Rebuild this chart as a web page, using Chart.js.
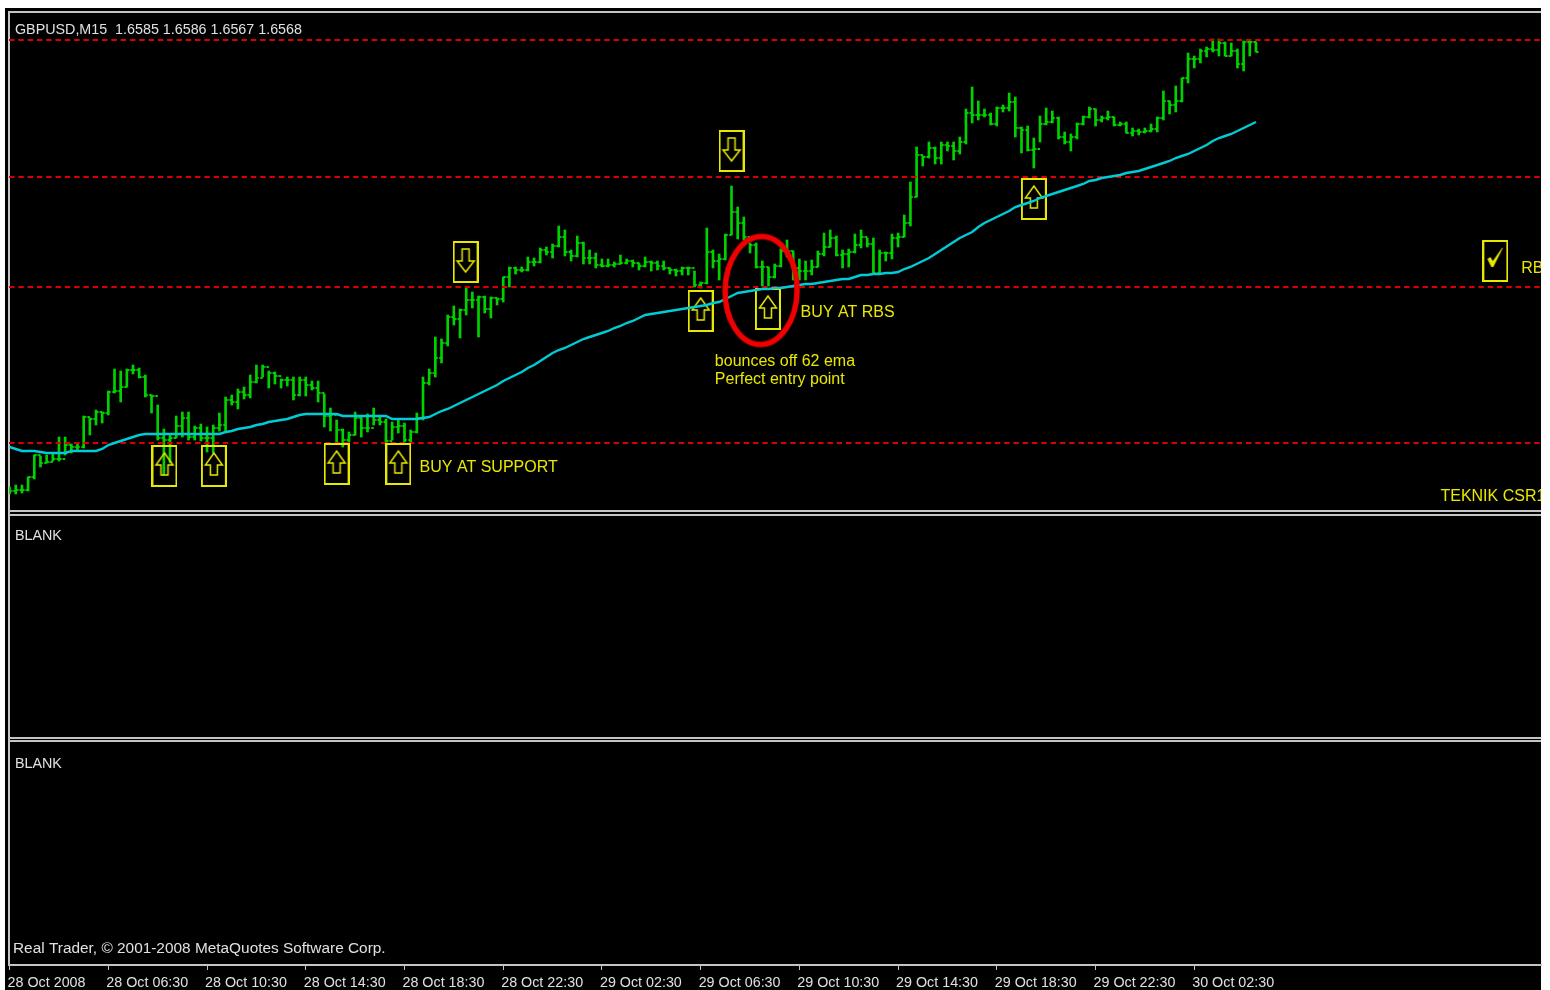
<!DOCTYPE html>
<html>
<head>
<meta charset="utf-8">
<title>GBPUSD M15</title>
<style>html,body{margin:0;padding:0;background:#fff}canvas{display:block}</style>
<script src="https://cdn.jsdelivr.net/npm/chart.js@4/dist/chart.umd.min.js"></script>
</head>
<body>
<canvas id="c" width="1550" height="990"></canvas>
<script>
// Estimated readings; unit = 1 tick (2 pips) above 1.5800. One entry per M15 bar.
const highs = [3,5,5,13,35,34,35,36,53,53,46,46,74,72,80,78,99,121,119,121,125,122,115,95,85,61,55,74,78,78,64,66,63,65,77,93,95,101,103,115,125,125,119,118,111,113,113,113,113,109,109,96,82,70,61,58,78,73,76,82,73,71,68,70,67,60,77,113,121,153,151,175,184,181,202,198,194,194,193,192,213,223,223,223,233,232,242,243,246,264,260,240,254,248,240,237,231,231,228,235,231,230,227,233,229,229,229,222,221,223,223,219,208,262,240,236,256,304,283,273,247,247,229,223,226,241,250,239,231,229,230,239,257,260,254,240,241,256,260,252,252,240,238,256,257,275,308,343,334,348,343,348,348,348,353,381,403,389,381,377,383,385,397,393,363,364,352,374,382,379,373,358,356,367,374,383,381,374,379,373,368,368,362,361,362,366,373,399,389,404,412,437,434,441,443,451,451,448,447,441,449,449,448];
const lows = [-4,-4,-3,-1,11,23,27,29,29,35,37,39,42,55,65,67,75,97,88,103,116,112,93,77,50,15,27,52,53,50,50,49,38,37,59,59,85,81,91,92,107,113,102,106,102,104,90,94,94,100,88,63,59,47,43,48,55,53,58,65,65,45,50,57,48,47,57,70,105,113,127,144,165,152,175,182,153,177,172,185,188,203,216,218,219,224,227,235,232,243,234,229,233,226,226,222,223,223,223,226,226,223,220,223,219,220,220,216,214,215,215,203,202,206,222,210,230,255,251,250,237,222,204,204,212,223,233,210,210,210,215,223,234,243,234,222,223,237,242,243,216,216,229,231,243,253,264,293,324,332,326,326,339,330,336,346,367,370,373,365,364,378,379,353,337,339,322,348,365,367,351,346,339,351,365,372,364,368,370,364,364,357,354,355,357,358,358,370,376,378,388,407,422,427,433,438,434,434,434,422,419,434,438];
const closes = [-1,0,0,13,35,27,28,31,31,45,43,43,73,71,78,77,98,99,103,120,120,113,95,94,52,50,52,64,72,53,62,52,52,62,65,90,88,98,95,108,112,123,117,114,110,110,95,110,105,102,97,74,75,60,50,55,72,62,62,70,68,49,63,64,50,58,72,107,117,132,147,173,171,180,190,190,193,181,192,191,213,222,220,220,228,228,240,238,244,253,238,234,247,232,232,225,224,225,226,227,229,227,224,228,227,224,222,220,219,222,222,205,207,238,229,231,255,278,267,253,245,223,223,213,224,239,239,222,219,219,223,236,243,252,235,236,238,245,253,246,217,237,237,252,253,267,293,335,333,342,332,345,344,339,348,377,375,375,375,366,382,382,388,362,360,340,341,366,368,372,353,348,353,366,373,381,370,372,373,365,366,357,359,358,359,361,372,389,385,389,412,431,431,439,441,440,447,434,439,426,448,448,438];
const ema62 = [43,41,39,39,39,38,37,37,37,37,39,39,39,39,39,41,45,47,49,51,53,55,56,56,56,56,56,56,56,56,56,56,56,56,56,58,59,61,62,63,65,66,68,69,70,71,73,75,76,76,76,76,76,76,74,74,74,74,74,74,74,74,71,71,71,71,71,72,73,76,79,81,84,87,90,93,96,99,102,105,109,112,115,118,122,125,129,133,137,140,142,145,148,151,153,155,157,159,162,164,167,169,172,175,176,177,178,179,180,181,182,183,184,185,187,188,191,194,197,198,199,200,201,201,202,202,203,204,205,206,206,207,208,209,210,211,211,213,215,215,216,216,217,217,218,221,223,226,229,232,236,240,244,248,252,255,258,263,267,270,273,276,279,283,285,287,289,292,294,296,298,300,302,304,306,309,310,312,313,314,315,317,318,319,321,323,325,327,329,332,334,336,339,342,345,349,352,354,356,359,362,365,368];
const levels = [450,313,203,47];
const tickBars = [0,16,32,48,64,80,96,112,128,144,160,176,192];
const tickLabels = ['28 Oct 2008','28 Oct 06:30','28 Oct 10:30','28 Oct 14:30','28 Oct 18:30','28 Oct 22:30','29 Oct 02:30','29 Oct 06:30','29 Oct 10:30','29 Oct 14:30','29 Oct 18:30','29 Oct 22:30','30 Oct 02:30'];
const buySignals = [[25.1,24],[33.1,24],[53,26],[63,26],[112,179],[122.9,181],[166,291]];
const sellSignals = [[73.9,228],[117,339]];
const checkMarks = [[240.8,229]];
const circled = [[121.8,199.5]];
const notes = [['BUY AT SUPPORT',66.45,23],['BUY AT RBS',128.2,178],['bounces off 62 ema',114.3,129],['Perfect entry point',114.3,111],['RB',245,222],['TEKNIK CSR1',231.9,-6]];
const headerText = 'GBPUSD,M15  1.6585 1.6586 1.6567 1.6568';
const panelLabel = 'BLANK';
const copyright = 'Real Trader, \u00A9 2001-2008 MetaQuotes Software Corp.';

const XMIN = -0.1, XMAX = 248.2, YMIN = -475, YMAX = 478;
const GREEN = '#00d200', CYAN = '#00ccd6', RED = '#d80000', YELLOW = '#e8e800', GRAY = '#c4c4c4';
const FONT = '"Liberation Sans"';

function canvasOf(w, h, draw) {
  const c = document.createElement('canvas');
  c.width = w; c.height = h;
  draw(c.getContext('2d'));
  return c;
}
function boxed(draw) {
  return canvasOf(26, 42, g => {
    g.strokeStyle = YELLOW; g.lineWidth = 2; g.lineJoin = 'miter';
    g.strokeRect(1, 1, 24, 40);
    g.lineWidth = 1.5;
    draw(g);
  });
}
const upBox = boxed(g => {
  g.beginPath();
  g.moveTo(13, 8); g.lineTo(21.5, 20); g.lineTo(16.5, 20); g.lineTo(16.5, 30);
  g.lineTo(9.5, 30); g.lineTo(9.5, 20); g.lineTo(4.5, 20); g.closePath(); g.stroke();
});
const downBox = boxed(g => {
  g.beginPath();
  g.moveTo(9.5, 8); g.lineTo(16.5, 8); g.lineTo(16.5, 20); g.lineTo(21.5, 20);
  g.lineTo(13, 31); g.lineTo(4.5, 20); g.lineTo(9.5, 20); g.closePath(); g.stroke();
});
const checkBox = boxed(g => {
  g.fillStyle = YELLOW;
  g.beginPath();
  g.moveTo(5, 19); g.lineTo(8, 17); g.lineTo(10.5, 21); g.lineTo(20, 7.5); g.lineTo(20.5, 8);
  g.lineTo(11, 27); g.lineTo(9, 27); g.closePath(); g.fill();
});
const ellipse = canvasOf(84, 120, g => {
  g.strokeStyle = '#f00000'; g.lineWidth = 5.5;
  g.beginPath(); g.ellipse(42, 60, 36, 54, 0.02, 0, Math.PI * 2); g.stroke();
});
const openTick = canvasOf(6, 2, g => { g.fillStyle = GREEN; g.fillRect(0.5, 0, 2.5, 2); });
const closeTick = canvasOf(6, 2, g => { g.fillStyle = GREEN; g.fillRect(3, 0, 2.5, 2); });

const toXY = a => a.map(p => ({x: p[0], y: p[1]}));
const markers = (data, style, order) => ({
  type: 'scatter', data: toXY(data), pointStyle: style, pointRadius: 1,
  pointHoverRadius: 1, order, clip: false
});
const bars = highs.map((h, i) => ({x: i, y: [lows[i], h]}));
const opens = [closes[0]].concat(closes.slice(0, -1));

const datasets = [
  {type: 'bar', data: bars, backgroundColor: GREEN, barThickness: 2, order: 9},
  {type: 'scatter', data: opens.map((v, i) => ({x: i, y: v})), pointStyle: openTick, pointRadius: 1, order: 8},
  {type: 'scatter', data: closes.map((v, i) => ({x: i, y: v})), pointStyle: closeTick, pointRadius: 1, order: 8},
  ...levels.map(v => ({
    type: 'line', data: [{x: XMIN, y: v}, {x: XMAX, y: v}], borderColor: RED, borderWidth: 2,
    borderDash: [5.5, 3.8], pointRadius: 0, order: 7
  })),
  markers(buySignals, upBox, 3),
  markers(sellSignals, downBox, 3),
  markers(checkMarks, checkBox, 3),
  {type: 'line', data: ema62.map((v, i) => ({x: i, y: v})), borderColor: CYAN, borderWidth: 2.4,
   pointRadius: 0, tension: 0, order: 2},
  markers(circled, ellipse, 1)
];

const frame = {
  id: 'frame',
  beforeDraw(chart) {
    const g = chart.ctx, a = chart.chartArea;
    g.save();
    g.fillStyle = '#fff'; g.fillRect(0, 0, chart.width, chart.height);
    g.fillStyle = '#000'; g.fillRect(5, 8, a.right - 5, chart.height - 8);
    g.fillStyle = GRAY;
    g.fillRect(8, 11, a.right - 8, 2);
    g.fillRect(8, 11, 2, a.bottom - 11);
    const h = a.bottom - a.top;
    [0.5225, 0.5265, 0.7605, 0.7635].forEach(f => g.fillRect(8, Math.round(a.top + h * f), a.right - 8, 2));
    g.restore();
  },
  afterDatasetsDraw(chart) {
    const g = chart.ctx, a = chart.chartArea, sx = chart.scales.x, sy = chart.scales.y;
    g.save();
    g.beginPath(); g.rect(0, 0, a.right, chart.height); g.clip();
    g.textBaseline = 'middle'; g.textAlign = 'left';
    g.fillStyle = YELLOW; g.font = '16px ' + FONT;
    notes.forEach(n => g.fillText(n[0], sx.getPixelForValue(n[1]), sy.getPixelForValue(n[2]) + 1));
    g.fillStyle = '#e0e0e0'; g.font = '14.3px ' + FONT;
    g.fillText(headerText, 15, 30);
    g.fillText(panelLabel, 15, 536);
    g.fillText(panelLabel, 15, 764);
    g.font = '15.4px ' + FONT;
    g.fillText(copyright, 13, 949);
    g.restore();
  }
};

new Chart(document.getElementById('c'), {
  type: 'bar',
  data: {datasets},
  plugins: [frame],
  options: {
    responsive: false,
    animation: false,
    events: [],
    layout: {padding: {left: 9, right: 9, top: 12, bottom: 0}},
    plugins: {legend: {display: false}, tooltip: {enabled: false}, title: {display: false}},
    scales: {
      x: {
        type: 'linear', min: XMIN, max: XMAX, offset: false,
        afterBuildTicks: s => { s.ticks = tickBars.map(v => ({value: v})); },
        afterFit: s => { s.height = 25; s.paddingLeft = 0; s.paddingRight = 0; },
        grid: {display: true, offset: false, drawOnChartArea: false, tickLength: 5, tickColor: GRAY},
        border: {color: GRAY, width: 2},
        ticks: {
          autoSkip: false, maxRotation: 0, align: 'start', padding: 4, labelOffset: -2,
          color: '#e0e0e0', font: {family: 'Liberation Sans', size: 14.3},
          callback: v => tickLabels[tickBars.indexOf(v)]
        }
      },
      y: {type: 'linear', min: YMIN, max: YMAX, display: false}
    }
  }
});
</script>
</body>
</html>
